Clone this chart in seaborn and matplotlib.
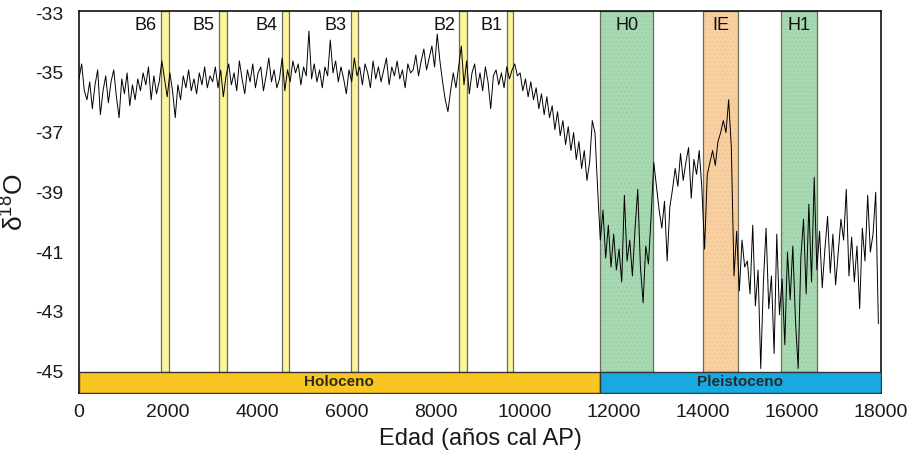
import numpy as np
import pandas as pd
import matplotlib
matplotlib.use("Agg")
import matplotlib.pyplot as plt
import seaborn as sns

# ---------------------------------------------------------------
# data: d18O record, one value every 60 years (0 - 17940 cal BP)
# ---------------------------------------------------------------

step = 60
d18o = [
    # 0 - 1440
    -35.2, -34.7, -35.6, -35.9, -35.3, -36.2, -35.4, -34.9, -36.4, -35.6, -35.1, -36.0, -35.3,
    -34.9, -35.8, -36.5, -35.2, -35.7, -35.0, -36.1, -35.4, -35.9, -35.2, -35.6, -35.0,
    # 1500 - 2940
    -35.4, -34.8, -35.9, -35.1, -35.7, -35.3, -34.6, -35.2, -35.8, -35.0, -35.6, -36.5, -35.4,
    -35.9, -35.1, -35.5, -34.9, -35.6, -35.2, -35.7, -35.0, -35.4, -34.8, -35.5, -35.1,
    # 3000 - 4440
    -35.3, -34.8, -35.5, -34.9, -35.8, -35.1, -34.7, -35.4, -35.0, -35.6, -34.6, -35.2, -35.7,
    -34.9, -35.3, -34.7, -35.5, -35.0, -34.8, -35.6, -35.1, -34.5, -35.3, -34.9, -35.5,
    # 4500 - 5940
    -35.2, -34.5, -35.6, -34.9, -35.3, -34.6, -35.0, -34.7, -35.4, -34.8, -35.1, -33.6, -35.2,
    -34.7, -35.3, -34.9, -35.5, -34.8, -35.1, -33.9, -35.0, -34.6, -35.3, -34.8, -35.2,
    # 6000 - 7440
    -35.7, -34.9, -35.3, -34.5, -35.1, -34.8, -35.4, -34.7, -35.0, -35.5, -34.6, -35.2, -34.8,
    -35.3, -34.9, -34.5, -35.4, -34.8, -35.1, -34.6, -35.2, -34.9, -35.5, -34.7, -35.0,
    # 7500 - 8940
    -34.9, -34.4, -35.1, -34.6, -34.2, -34.9, -34.5, -34.1, -34.8, -33.7, -34.6, -35.3, -35.9,
    -36.3, -35.6, -35.0, -35.5, -34.8, -34.1, -35.4, -34.6, -35.7, -35.0, -34.7, -35.5,
    # 9000 - 10440
    -35.0, -35.6, -34.8, -35.3, -36.2, -35.1, -34.9, -35.4, -35.0, -35.5, -34.8, -35.2, -34.9,
    -34.7, -35.1, -35.0, -35.6, -35.2, -35.8, -35.3, -35.9, -35.5, -36.2, -35.7, -36.4,
    # 10500 - 11940
    -35.8, -36.5, -36.1, -36.9, -36.3, -37.1, -36.6, -37.4, -36.8, -37.6, -37.0, -37.9, -37.3,
    -38.2, -37.6, -38.6, -38.0, -36.6, -37.0, -38.9, -40.6, -39.6, -41.2, -40.1, -41.5,
    # 12000 - 13440
    -40.4, -41.6, -40.9, -42.0, -39.1, -41.3, -40.6, -41.8, -40.2, -38.9, -41.5, -42.7, -40.8,
    -41.4, -39.8, -38.0, -38.8, -39.6, -40.2, -39.3, -41.3, -39.5, -38.9, -38.2, -38.8,
    # 13500 - 14940
    -37.7, -38.6, -38.0, -37.5, -39.2, -37.9, -38.4, -37.6, -38.9, -40.9, -38.4, -38.0, -37.6,
    -38.1, -37.3, -37.0, -36.6, -37.0, -35.9, -37.5, -41.8, -40.3, -42.3, -40.6, -41.5,
    # 15000 - 16440
    -41.3, -42.4, -40.1, -42.8, -41.6, -44.9, -42.0, -40.2, -42.9, -41.8, -44.4, -40.4, -43.1,
    -41.9, -44.1, -41.0, -42.6, -40.8, -43.3, -44.9, -41.2, -39.9, -42.4, -39.4, -42.0,
    # 16500 - 17940
    -38.5, -41.6, -40.3, -42.2, -40.9, -39.8, -41.7, -40.4, -42.1, -41.0, -39.9, -40.6, -38.9,
    -41.8, -40.5, -42.0, -40.8, -42.9, -40.2, -41.3, -39.1, -41.0, -40.4, -39.0, -43.4,
]
edad = np.arange(len(d18o)) * step

# events (start, end) in cal BP
event_names = ["B6", "B5", "B4", "B3", "B2", "B1", "H0", "IE", "H1"]
event_start = [1840, 3140, 4550, 6100, 8530, 9600, 11690, 14010, 15750]
event_end = [2020, 3320, 4710, 6270, 8710, 9750, 12890, 14800, 16570]
event_kind = ["B", "B", "B", "B", "B", "B", "H", "IE", "H"]

# epochs
epoch_names = ["Holoceno", "Pleistoceno"]
epoch_start = [0, 11690]
epoch_end = [11690, 18000]

df = pd.DataFrame({"edad": edad, "d18o": d18o})

###############################################################
# plot
###############################################################

sns.set_theme(style="white")
plt.rcParams["font.family"] = ["Liberation Sans", "DejaVu Sans"]
plt.rcParams["axes.unicode_minus"] = False
plt.rcParams["mathtext.fontset"] = "custom"
plt.rcParams["mathtext.rm"] = "Liberation Sans"
plt.rcParams["hatch.linewidth"] = 0.4

fig = plt.figure(figsize=(9.13, 4.61), dpi=100)
ax = fig.add_axes([0.0865, 0.1475, 0.8785, 0.8285])

ymin, ymax = -45.72, -32.93
y_bar = -45.0

fill_colors = {"B": "#FDF39B", "H": "#A6D8B2", "IE": "#F8CFA0"}
hatch_colors = {"B": "#FDF39B", "H": "#93C9A0", "IE": "#EDBF8E"}

for name, s, e, k in zip(event_names, event_start, event_end, event_kind):
    ax.bar(s, ymax - y_bar, width=e - s, bottom=y_bar, align="edge",
           color=fill_colors[k], edgecolor=hatch_colors[k],
           hatch="...." if k != "B" else None, linewidth=0, zorder=1)
    ax.bar(s, ymax - y_bar, width=e - s, bottom=y_bar, align="edge",
           fill=False, edgecolor="#6b6b5e", linewidth=0.9, zorder=1.5)
    if k == "B":
        ax.text(s - 90, -33.4, name, ha="right", va="center",
                fontsize=13, color="#111111", zorder=4)
    else:
        ax.text((s + e) / 2, -33.4, name, ha="center", va="center",
                fontsize=13, color="#111111", zorder=4)

sns.lineplot(data=df, x="edad", y="d18o", ax=ax, color="black",
             linewidth=0.7, zorder=3)

epoch_colors = ["#F9C520", "#19A9E2"]
for name, s, e, c in zip(epoch_names, epoch_start, epoch_end, epoch_colors):
    ax.barh(y_bar + (ymin - y_bar) / 2, e - s, height=y_bar - ymin, left=s,
            color=c, edgecolor="#333333", linewidth=1.0, zorder=4)
    ax.text((s + e) / 2, y_bar + (ymin - y_bar) / 2, name, ha="center",
            va="center", fontsize=11, fontweight="bold", color="#2a2a2a",
            zorder=5)

ax.set_xlim(0, 18000)
ax.set_ylim(ymin, ymax)
ax.set_xticks(range(0, 18001, 2000))
ax.set_yticks(range(-45, -32, 2))
ax.tick_params(axis="both", length=0, labelsize=14, colors="#1a1a1a")
ax.tick_params(axis="x", pad=8)
ax.tick_params(axis="y", pad=11)

ax.set_xlabel("Edad (años cal AP)", fontsize=17, color="#1a1a1a", labelpad=5)
ax.set_ylabel(r"δ$\mathregular{^{18}}$O", fontsize=19, color="#1a1a1a", labelpad=5)

for sp in ax.spines.values():
    sp.set_color("#111111")
    sp.set_linewidth(1.2)

plt.savefig("out.png", dpi=100)
plt.close()
